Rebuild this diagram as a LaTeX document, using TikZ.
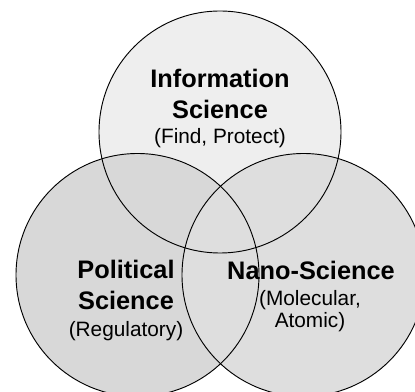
\documentclass[tikz,border=0pt]{standalone}
\usepackage{fontspec}
\setmainfont{Liberation Sans}
\usepackage{tikz}
\definecolor{topfill}{HTML}{EEEEEE}
\definecolor{leftfill}{HTML}{D8D8D8}
\definecolor{rightfill}{HTML}{DEDEDE}
\tikzstyle{ring}=[draw=black,line width=0.7pt]
\tikzstyle{title}=[font=\fontsize{19}{23.25}\selectfont\bfseries,align=center,anchor=base,inner sep=0pt]
\tikzstyle{note}=[font=\fontsize{15.6}{16.5}\selectfont,align=center,anchor=base,inner sep=0pt]
\begin{document}
\begin{tikzpicture}[x=0.75pt,y=-0.75pt]
    \useasboundingbox (0,0) rectangle (415,392);
    \clip (0,0) rectangle (415,392);
    \coordinate (info) at (220,132);
    \coordinate (pol) at (137.5,275);
    \coordinate (nano) at (303.5,275);
    \fill[topfill] (info) circle [radius=121];
    \fill[leftfill] (pol) circle [radius=121.5];
    \fill[rightfill] (nano) circle [radius=121.5];
    \path[ring] (info) circle [radius=121];
    \path[ring] (pol) circle [radius=121.5];
    \path[ring] (nano) circle [radius=121.5];
    \node[title] (infotitle) at (220,119) {Information\\Science};
    \node[note] (infonote) at (220,144) {(Find, Protect)};
    \node[title] (poltitle) at (126,310) {Political\\Science};
    \node[note] (polnote) at (126,337) {(Regulatory)};
    \node[title] (nanotitle) at (311,280) {Nano-Science};
    \node[note] (nanonote) at (310,328) {(Molecular,\\Atomic)};
\end{tikzpicture}
\end{document}
